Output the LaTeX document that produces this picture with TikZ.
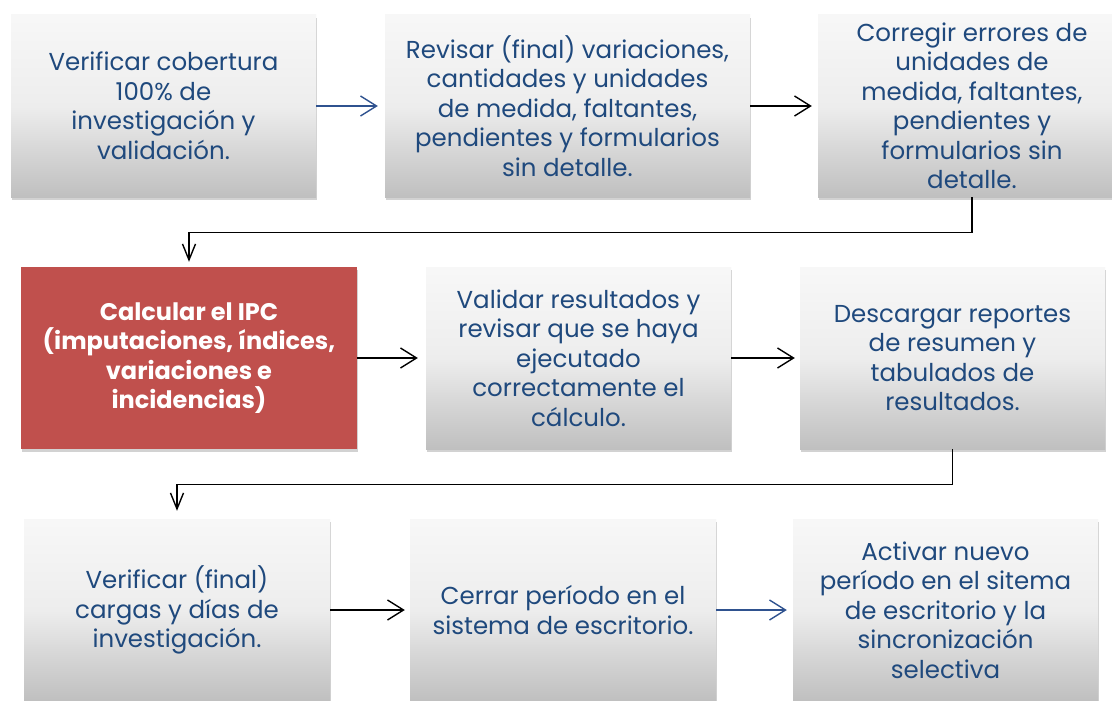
\documentclass[tikz,border=0pt]{standalone}
\usepackage{fontspec}
\setmainfont{Poppins}
\usetikzlibrary{arrows.meta,shadows}

\definecolor{txtblue}{HTML}{1F497D}
\definecolor{arrblue}{HTML}{2F528F}
\definecolor{ipcred}{HTML}{C0504D}

\tikzset{
  stepbox/.style={rectangle, minimum height=182pt, inner sep=2pt, align=center,
    top color=gray!6, bottom color=gray!50, middle color=gray!14,
    text=txtblue, font=\fontsize{24.5}{29.5}\selectfont,
    drop shadow={shadow xshift=1pt, shadow yshift=-3pt, opacity=.35}},
  redbox/.style={rectangle, minimum height=182pt, inner sep=2pt, align=center,
    fill=ipcred, text=white, font=\fontsize{24}{29.5}\selectfont\bfseries,
    drop shadow={shadow xshift=1pt, shadow yshift=-3pt, opacity=.35}},
  flow/.style={line width=1.4pt, -{Straight Barb[length=16pt,width=20pt]}},
  turn/.style={line width=1.4pt, -{Straight Barb[length=16pt,width=13pt]}}
}

\begin{document}
\begin{tikzpicture}[x=1pt,y=-1pt]
\clip (0,0) rectangle (1112,701);
\fill[white] (0,0) rectangle (1112,701);

% fila 1
\node[stepbox, minimum width=305pt] (verif) at (163.5,106) {Verificar cobertura\\100\% de\\investigación y\\validación.};
\node[stepbox, minimum width=365pt] (revis) at (567.5,106) {Revisar (final) variaciones,\\cantidades y unidades\\de medida, faltantes,\\pendientes y formularios\\sin detalle.};
\node[stepbox, minimum width=308pt] (corr) at (972,106) {Corregir errores de\\unidades de\\medida, faltantes,\\pendientes y\\formularios sin\\detalle.};

% fila 2
\node[redbox, minimum width=336pt] (ipc) at (189,358) {Calcular el IPC\\(imputaciones, índices,\\variaciones e\\incidencias)};
\node[stepbox, minimum width=305pt] (valid) at (578.5,358) {Validar resultados y\\revisar que se haya\\ejecutado\\correctamente el\\cálculo.};
\node[stepbox, minimum width=305pt] (desc) at (952.5,358) {Descargar reportes\\de resumen y\\tabulados de\\resultados.};

% fila 3
\node[stepbox, minimum width=306pt] (cargas) at (177,610) {Verificar (final)\\cargas y días de\\investigación.};
\node[stepbox, minimum width=306pt] (cerrar) at (563,610) {Cerrar período en el\\sistema de escritorio.};
\node[stepbox, minimum width=305pt] (activ) at (945.5,610) {Activar nuevo\\período en el sitema\\de escritorio y la\\sincronización\\selectiva};

\draw[flow, arrblue, shorten >=7pt] (verif.east) -- (revis.west);
\draw[flow, shorten >=6pt] (revis.east) -- (corr.west);
\draw[turn, shorten >=5pt] (corr.south) -- ++(0,35) -| (ipc.north);

\draw[flow, shorten >=8pt] (ipc.east) -- (valid.west);
\draw[flow, shorten >=5pt] (valid.east) -- (desc.west);
\draw[turn, shorten >=8pt] (desc.south) -- ++(0,35) -| (cargas.north);

\draw[flow, shorten >=5pt] (cargas.east) -- (cerrar.west);
\draw[flow, arrblue, shorten >=6pt] (cerrar.east) -- (activ.west);
\end{tikzpicture}
\end{document}
